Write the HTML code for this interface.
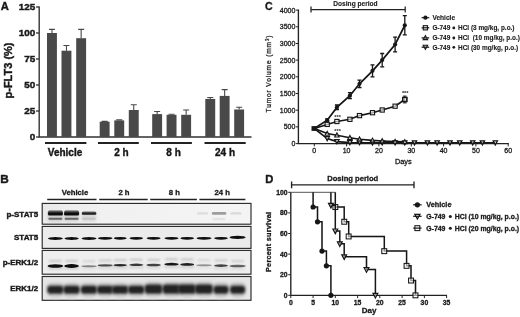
<!DOCTYPE html>
<html><head><meta charset="utf-8">
<style>
html,body{margin:0;padding:0;background:#fff;}
svg{display:block;}
text{font-family:"Liberation Sans",sans-serif;fill:#1a1a1a;stroke:#1a1a1a;stroke-width:0.3px;}
.b{font-weight:bold;}
#pC text{stroke-width:0.12px;}
</style></head><body>
<svg width="520" height="317" viewBox="0 0 520 317">
<defs>
<filter id="bl1" x="-20%" y="-100%" width="140%" height="300%"><feGaussianBlur stdDeviation="0.7"/></filter>
<filter id="bl2" x="-20%" y="-100%" width="140%" height="300%"><feGaussianBlur stdDeviation="1.0"/></filter>
<filter id="bl3" x="-20%" y="-100%" width="140%" height="300%"><feGaussianBlur stdDeviation="1.6"/></filter>
<filter id="bl0" x="-20%" y="-100%" width="140%" height="300%"><feGaussianBlur stdDeviation="0.5"/></filter>
<filter id="soft" x="0" y="0" width="100%" height="100%"><feGaussianBlur stdDeviation="0.3"/></filter>
<linearGradient id="g1" x1="0" x2="1" y1="0" y2="0"><stop offset="0" stop-color="#e9e9e9"/><stop offset="0.3" stop-color="#f1f1f1"/><stop offset="1" stop-color="#f4f4f4"/></linearGradient>
</defs>
<rect width="520" height="317" fill="#fff"/>
<g filter="url(#soft)">

<g id="pA">
<text class="b" x="0.8" y="9.7" font-size="11.2" style="stroke-width:0.4px">A</text>
<path d="M39.2 6.5V137.0H251.5" fill="none" stroke="#333" stroke-width="1.4"/>
<path d="M36.0 137.0H39.2" stroke="#333" stroke-width="1.3"/>
<text class="b" x="35.2" y="140.1" font-size="9.9" text-anchor="end" style="stroke-width:0.45px">0</text>
<path d="M36.0 111.0H39.2" stroke="#333" stroke-width="1.3"/>
<text class="b" x="35.2" y="114.1" font-size="9.9" text-anchor="end" style="stroke-width:0.45px">25</text>
<path d="M36.0 85.0H39.2" stroke="#333" stroke-width="1.3"/>
<text class="b" x="35.2" y="88.1" font-size="9.9" text-anchor="end" style="stroke-width:0.45px">50</text>
<path d="M36.0 59.0H39.2" stroke="#333" stroke-width="1.3"/>
<text class="b" x="35.2" y="62.1" font-size="9.9" text-anchor="end" style="stroke-width:0.45px">75</text>
<path d="M36.0 33.0H39.2" stroke="#333" stroke-width="1.3"/>
<text class="b" x="35.2" y="36.1" font-size="9.9" text-anchor="end" style="stroke-width:0.45px">100</text>
<path d="M36.0 7.0H39.2" stroke="#333" stroke-width="1.3"/>
<text class="b" x="35.2" y="10.1" font-size="9.9" text-anchor="end" style="stroke-width:0.45px">125</text>
<text class="b" font-size="10.3" text-anchor="middle" textLength="56" lengthAdjust="spacingAndGlyphs" style="stroke-width:0.4px" transform="translate(11.9 70.5) rotate(-90)">p-FLT3 (%)</text>
<rect x="47.0" y="33.0" width="9.9" height="104.0" fill="#484848"/>
<path d="M51.95 33.0V29.4M48.95 29.4H54.95" stroke="#484848" stroke-width="1.1" fill="none"/>
<rect x="61.5" y="50.7" width="9.9" height="86.3" fill="#484848"/>
<path d="M66.45 50.7V45.5M63.45 45.5H69.45" stroke="#484848" stroke-width="1.1" fill="none"/>
<rect x="76.2" y="38.2" width="9.9" height="98.8" fill="#484848"/>
<path d="M81.15 38.2V29.4M78.15 29.4H84.15" stroke="#484848" stroke-width="1.1" fill="none"/>
<rect x="99.7" y="121.7" width="9.9" height="15.3" fill="#484848"/>
<path d="M104.65 121.7V121.4M101.65 121.4H107.65" stroke="#484848" stroke-width="1.1" fill="none"/>
<rect x="114.3" y="120.4" width="9.9" height="16.6" fill="#484848"/>
<path d="M119.25 120.4V119.9M116.25 119.9H122.25" stroke="#484848" stroke-width="1.1" fill="none"/>
<rect x="128.8" y="110.0" width="9.9" height="27.0" fill="#484848"/>
<path d="M133.75 110.0V104.8M130.75 104.8H136.75" stroke="#484848" stroke-width="1.1" fill="none"/>
<rect x="152.2" y="114.1" width="9.9" height="22.9" fill="#484848"/>
<path d="M157.14999999999998 114.1V111.5M154.14999999999998 111.5H160.14999999999998" stroke="#484848" stroke-width="1.1" fill="none"/>
<rect x="166.6" y="114.8" width="9.9" height="22.2" fill="#484848"/>
<path d="M171.54999999999998 114.8V114.3M168.54999999999998 114.3H174.54999999999998" stroke="#484848" stroke-width="1.1" fill="none"/>
<rect x="181.2" y="114.8" width="9.9" height="22.2" fill="#484848"/>
<path d="M186.14999999999998 114.8V110.0M183.14999999999998 110.0H189.14999999999998" stroke="#484848" stroke-width="1.1" fill="none"/>
<rect x="205.3" y="98.9" width="9.9" height="38.1" fill="#484848"/>
<path d="M210.25 98.9V97.5M207.25 97.5H213.25" stroke="#484848" stroke-width="1.1" fill="none"/>
<rect x="219.7" y="95.9" width="9.9" height="41.1" fill="#484848"/>
<path d="M224.64999999999998 95.9V89.6M221.64999999999998 89.6H227.64999999999998" stroke="#484848" stroke-width="1.1" fill="none"/>
<rect x="234.2" y="109.5" width="9.9" height="27.5" fill="#484848"/>
<path d="M239.14999999999998 109.5V107.3M236.14999999999998 107.3H242.14999999999998" stroke="#484848" stroke-width="1.1" fill="none"/>
<path d="M45 143H86.4" stroke="#222" stroke-width="1.9"/>
<text class="b" x="65.0" y="156" font-size="10" text-anchor="middle" style="stroke-width:0.4px">Vehicle</text>
<path d="M98 143H138.8" stroke="#222" stroke-width="1.9"/>
<text class="b" x="121.5" y="156" font-size="10" text-anchor="middle" style="stroke-width:0.4px">2 h</text>
<path d="M151 143H191.9" stroke="#222" stroke-width="1.9"/>
<text class="b" x="173.6" y="156" font-size="10" text-anchor="middle" style="stroke-width:0.4px">8 h</text>
<path d="M204.5 143H245.7" stroke="#222" stroke-width="1.9"/>
<text class="b" x="225" y="156" font-size="10" text-anchor="middle" style="stroke-width:0.4px">24 h</text>
</g>
<g id="pB">
<text class="b" x="0.2" y="182.6" font-size="11.8" style="stroke-width:0.4px">B</text>
<path d="M47.2 199.5H96.5" stroke="#222" stroke-width="1.5"/>
<text class="b" x="75" y="195.3" font-size="7.7" text-anchor="middle">Vehicle</text>
<path d="M99.2 199.5H147.7" stroke="#222" stroke-width="1.5"/>
<text class="b" x="124" y="195.3" font-size="7.7" text-anchor="middle">2 h</text>
<path d="M150.2 199.5H196.9" stroke="#222" stroke-width="1.5"/>
<text class="b" x="174.4" y="195.3" font-size="7.7" text-anchor="middle">8 h</text>
<path d="M199.4 199.5H245.4" stroke="#222" stroke-width="1.5"/>
<text class="b" x="222.2" y="195.3" font-size="7.7" text-anchor="middle">24 h</text>
<rect x="42.2" y="203.4" width="208.8" height="20.8" fill="url(#g1)" stroke="#2a2a2a" stroke-width="1.15"/>
<text class="b" x="38.2" y="216.7" font-size="8" text-anchor="end" style="stroke-width:0.4px">p-STAT5</text>
<rect x="42.2" y="226.4" width="208.8" height="22.0" fill="#ebebeb" stroke="#2a2a2a" stroke-width="1.15"/>
<text class="b" x="38.2" y="240.3" font-size="8" text-anchor="end" style="stroke-width:0.4px">STAT5</text>
<rect x="42.2" y="250.4" width="208.8" height="23.8" fill="#eeeeee" stroke="#2a2a2a" stroke-width="1.15"/>
<text class="b" x="38.2" y="265.2" font-size="8" text-anchor="end" style="stroke-width:0.4px">p-ERK1/2</text>
<rect x="42.2" y="276.5" width="208.8" height="23.8" fill="#e6e6e6" stroke="#2a2a2a" stroke-width="1.15"/>
<text class="b" x="38.2" y="291.3" font-size="8" text-anchor="end" style="stroke-width:0.4px">ERK1/2</text>
<rect x="47.9" y="212.5" width="15" height="9" rx="1.6" fill="#aaa" opacity="0.45" filter="url(#bl2)"/>
<rect x="47.9" y="210.6" width="15" height="5.2" rx="1.6" fill="#444" opacity="0.9" filter="url(#bl1)"/>
<rect x="47.9" y="212.5" width="15" height="2.6" rx="1.3" fill="#0c0c0c" opacity="1" filter="url(#bl0)"/>
<rect x="48.4" y="217.8" width="14" height="2.0" rx="1.0" fill="#555" opacity="0.85" filter="url(#bl1)"/>
<rect x="64.1" y="212.5" width="15" height="9" rx="1.6" fill="#aaa" opacity="0.45" filter="url(#bl2)"/>
<rect x="64.1" y="210.6" width="15" height="5.2" rx="1.6" fill="#444" opacity="0.9" filter="url(#bl1)"/>
<rect x="64.1" y="212.5" width="15" height="2.6" rx="1.3" fill="#0c0c0c" opacity="1" filter="url(#bl0)"/>
<rect x="64.6" y="217.8" width="14" height="2.0" rx="1.0" fill="#555" opacity="0.85" filter="url(#bl1)"/>
<rect x="81.8" y="212.5" width="14.5" height="9" rx="1.6" fill="#aaa" opacity="0.3375" filter="url(#bl2)"/>
<rect x="81.8" y="211.4" width="14.5" height="3.6" rx="1.6" fill="#444" opacity="0.675" filter="url(#bl1)"/>
<rect x="81.8" y="212.4" width="14.5" height="2.0" rx="1.0" fill="#0c0c0c" opacity="0.75" filter="url(#bl0)"/>
<rect x="82.2" y="217.8" width="13.5" height="2.0" rx="1.0" fill="#555" opacity="0.15" filter="url(#bl1)"/>
<rect x="211.8" y="212.1" width="14.5" height="2.6" rx="1.3" fill="#888" opacity="0.8" filter="url(#bl1)"/>
<rect x="197.0" y="212.2" width="11" height="2.4" rx="1.2" fill="#bbb" opacity="0.4" filter="url(#bl1)"/>
<rect x="230.5" y="212.2" width="11" height="2.4" rx="1.2" fill="#bbb" opacity="0.45" filter="url(#bl1)"/>
<rect x="212.5" y="217.8" width="13" height="2.4" rx="1.2" fill="#ccc" opacity="0.4" filter="url(#bl1)"/>
<ellipse cx="55.4" cy="238.5" rx="7.5" ry="1.4" fill="#0a0a0a" opacity="1" filter="url(#bl0)"/>
<ellipse cx="71.6" cy="238.5" rx="7.1" ry="1.4" fill="#0a0a0a" opacity="1" filter="url(#bl0)"/>
<ellipse cx="89.0" cy="238.5" rx="7.5" ry="1.4" fill="#0a0a0a" opacity="1" filter="url(#bl0)"/>
<ellipse cx="105.2" cy="238.3" rx="7.3" ry="1.4" fill="#0a0a0a" opacity="1" filter="url(#bl0)"/>
<ellipse cx="120.2" cy="238.3" rx="6.4" ry="1.4" fill="#0a0a0a" opacity="1" filter="url(#bl0)"/>
<ellipse cx="136.3" cy="238.3" rx="6.8" ry="1.4" fill="#0a0a0a" opacity="1" filter="url(#bl0)"/>
<ellipse cx="153.6" cy="238.3" rx="7.0" ry="1.4" fill="#0a0a0a" opacity="1" filter="url(#bl0)"/>
<ellipse cx="171.5" cy="238.3" rx="7.0" ry="1.4" fill="#0a0a0a" opacity="1" filter="url(#bl0)"/>
<ellipse cx="187.2" cy="238.3" rx="6.8" ry="1.4" fill="#0a0a0a" opacity="1" filter="url(#bl0)"/>
<ellipse cx="204.0" cy="238.3" rx="7.5" ry="1.4" fill="#0a0a0a" opacity="1" filter="url(#bl0)"/>
<ellipse cx="221.0" cy="238.3" rx="6.8" ry="1.4" fill="#0a0a0a" opacity="1" filter="url(#bl0)"/>
<ellipse cx="237.6" cy="237.4" rx="8.0" ry="1.6" fill="#0a0a0a" opacity="1" filter="url(#bl0)"/>
<rect x="47.9" y="265.1" width="15" height="5" rx="1.6" fill="#bbb" opacity="0.5" filter="url(#bl2)"/>
<ellipse cx="55.4" cy="266.0" rx="7.8" ry="1.8" fill="#111" opacity="1" filter="url(#bl1)"/>
<rect x="48.9" y="260.0" width="13" height="2.0" rx="1.0" fill="#999" opacity="0.5" filter="url(#bl2)"/>
<rect x="64.1" y="265.1" width="15" height="5" rx="1.6" fill="#bbb" opacity="0.5" filter="url(#bl2)"/>
<ellipse cx="71.6" cy="266.0" rx="7.3" ry="1.9" fill="#111" opacity="1" filter="url(#bl1)"/>
<rect x="65.1" y="260.0" width="13" height="2.0" rx="1.0" fill="#999" opacity="0.5" filter="url(#bl2)"/>
<rect x="81.5" y="265.3" width="15" height="5" rx="1.6" fill="#bbb" opacity="0.225" filter="url(#bl2)"/>
<ellipse cx="89.0" cy="266.2" rx="7.8" ry="1.0" fill="#111" opacity="0.45" filter="url(#bl1)"/>
<rect x="82.5" y="260.2" width="13" height="2.0" rx="1.0" fill="#999" opacity="0.325" filter="url(#bl2)"/>
<rect x="97.7" y="264.5" width="15" height="5" rx="1.6" fill="#bbb" opacity="0.35" filter="url(#bl2)"/>
<ellipse cx="105.2" cy="265.4" rx="7.5" ry="1.1" fill="#111" opacity="0.7" filter="url(#bl1)"/>
<rect x="98.7" y="259.4" width="13" height="2.0" rx="1.0" fill="#999" opacity="0.44999999999999996" filter="url(#bl2)"/>
<rect x="112.7" y="264.3" width="15" height="5" rx="1.6" fill="#bbb" opacity="0.425" filter="url(#bl2)"/>
<ellipse cx="120.2" cy="265.2" rx="6.7" ry="1.3" fill="#111" opacity="0.85" filter="url(#bl1)"/>
<rect x="113.7" y="259.2" width="13" height="2.0" rx="1.0" fill="#999" opacity="0.5" filter="url(#bl2)"/>
<rect x="128.8" y="263.9" width="15" height="5" rx="1.6" fill="#bbb" opacity="0.4" filter="url(#bl2)"/>
<ellipse cx="136.3" cy="264.8" rx="7.0" ry="1.3" fill="#111" opacity="0.8" filter="url(#bl1)"/>
<rect x="129.8" y="258.8" width="13" height="2.0" rx="1.0" fill="#999" opacity="0.5" filter="url(#bl2)"/>
<rect x="146.1" y="264.1" width="15" height="5" rx="1.6" fill="#bbb" opacity="0.375" filter="url(#bl2)"/>
<ellipse cx="153.6" cy="265.0" rx="7.2" ry="1.3" fill="#111" opacity="0.75" filter="url(#bl1)"/>
<rect x="147.1" y="259.0" width="13" height="2.0" rx="1.0" fill="#999" opacity="0.475" filter="url(#bl2)"/>
<rect x="164.0" y="263.3" width="15" height="5" rx="1.6" fill="#bbb" opacity="0.475" filter="url(#bl2)"/>
<ellipse cx="171.5" cy="264.2" rx="7.2" ry="1.4" fill="#111" opacity="0.95" filter="url(#bl1)"/>
<rect x="165.0" y="258.2" width="13" height="2.0" rx="1.0" fill="#999" opacity="0.5" filter="url(#bl2)"/>
<rect x="179.7" y="263.5" width="15" height="5" rx="1.6" fill="#bbb" opacity="0.45" filter="url(#bl2)"/>
<ellipse cx="187.2" cy="264.4" rx="7.0" ry="1.4" fill="#111" opacity="0.9" filter="url(#bl1)"/>
<rect x="180.7" y="258.4" width="13" height="2.0" rx="1.0" fill="#999" opacity="0.5" filter="url(#bl2)"/>
<rect x="196.5" y="264.3" width="15" height="5" rx="1.6" fill="#bbb" opacity="0.19" filter="url(#bl2)"/>
<ellipse cx="204.0" cy="265.2" rx="7.8" ry="1.0" fill="#111" opacity="0.38" filter="url(#bl1)"/>
<rect x="197.5" y="259.2" width="13" height="2.0" rx="1.0" fill="#999" opacity="0.29000000000000004" filter="url(#bl2)"/>
<rect x="213.5" y="264.7" width="15" height="5" rx="1.6" fill="#bbb" opacity="0.375" filter="url(#bl2)"/>
<ellipse cx="221.0" cy="265.6" rx="7.0" ry="1.3" fill="#111" opacity="0.75" filter="url(#bl1)"/>
<rect x="214.5" y="259.6" width="13" height="2.0" rx="1.0" fill="#999" opacity="0.475" filter="url(#bl2)"/>
<rect x="230.1" y="265.1" width="15" height="5" rx="1.6" fill="#bbb" opacity="0.3" filter="url(#bl2)"/>
<ellipse cx="237.6" cy="266.0" rx="8.2" ry="1.3" fill="#111" opacity="0.6" filter="url(#bl1)"/>
<rect x="231.1" y="260.0" width="13" height="2.0" rx="1.0" fill="#999" opacity="0.4" filter="url(#bl2)"/>
<rect x="46.6" y="283.4" width="17.6" height="12.4" rx="4.5" fill="#666" opacity="0.5" filter="url(#bl3)"/>
<rect x="47.4" y="286.0" width="16.0" height="7.4" rx="3.4" fill="#1e1e1e" opacity="0.95" filter="url(#bl2)"/>
<rect x="50.9" y="295.2" width="9" height="4" rx="1.6" fill="#ccc" opacity="0.35" filter="url(#bl3)"/>
<rect x="62.8" y="283.4" width="17.6" height="12.4" rx="4.5" fill="#666" opacity="0.5" filter="url(#bl3)"/>
<rect x="63.6" y="286.0" width="16.0" height="7.4" rx="3.4" fill="#1e1e1e" opacity="0.95" filter="url(#bl2)"/>
<rect x="67.1" y="295.2" width="9" height="4" rx="1.6" fill="#ccc" opacity="0.35" filter="url(#bl3)"/>
<rect x="80.2" y="283.4" width="17.6" height="12.4" rx="4.5" fill="#666" opacity="0.5" filter="url(#bl3)"/>
<rect x="81.0" y="286.0" width="16.0" height="7.4" rx="3.4" fill="#1e1e1e" opacity="0.95" filter="url(#bl2)"/>
<rect x="84.5" y="295.2" width="9" height="4" rx="1.6" fill="#ccc" opacity="0.35" filter="url(#bl3)"/>
<rect x="96.4" y="283.4" width="17.6" height="12.4" rx="4.5" fill="#666" opacity="0.5" filter="url(#bl3)"/>
<rect x="97.2" y="286.0" width="16.0" height="7.4" rx="3.4" fill="#1e1e1e" opacity="0.95" filter="url(#bl2)"/>
<rect x="100.7" y="295.2" width="9" height="4" rx="1.6" fill="#ccc" opacity="0.35" filter="url(#bl3)"/>
<rect x="111.4" y="283.4" width="17.6" height="12.4" rx="4.5" fill="#666" opacity="0.5" filter="url(#bl3)"/>
<rect x="112.2" y="286.0" width="16.0" height="7.4" rx="3.4" fill="#1e1e1e" opacity="0.95" filter="url(#bl2)"/>
<rect x="115.7" y="295.2" width="9" height="4" rx="1.6" fill="#ccc" opacity="0.35" filter="url(#bl3)"/>
<rect x="127.5" y="283.4" width="17.6" height="12.4" rx="4.5" fill="#666" opacity="0.5" filter="url(#bl3)"/>
<rect x="128.3" y="286.0" width="16.0" height="7.4" rx="3.4" fill="#1e1e1e" opacity="0.95" filter="url(#bl2)"/>
<rect x="131.8" y="295.2" width="9" height="4" rx="1.6" fill="#ccc" opacity="0.35" filter="url(#bl3)"/>
<rect x="144.1" y="282.2" width="19.0" height="13.6" rx="4.5" fill="#666" opacity="0.5" filter="url(#bl3)"/>
<rect x="144.9" y="284.8" width="17.4" height="8.6" rx="3.4" fill="#1e1e1e" opacity="0.95" filter="url(#bl2)"/>
<rect x="149.1" y="295.2" width="9" height="4" rx="1.6" fill="#ccc" opacity="0.35" filter="url(#bl3)"/>
<rect x="162.0" y="282.2" width="19.0" height="13.6" rx="4.5" fill="#666" opacity="0.5" filter="url(#bl3)"/>
<rect x="162.8" y="284.8" width="17.4" height="8.6" rx="3.4" fill="#1e1e1e" opacity="0.95" filter="url(#bl2)"/>
<rect x="167.0" y="295.2" width="9" height="4" rx="1.6" fill="#ccc" opacity="0.35" filter="url(#bl3)"/>
<rect x="177.7" y="282.2" width="19.0" height="13.6" rx="4.5" fill="#666" opacity="0.5" filter="url(#bl3)"/>
<rect x="178.5" y="284.8" width="17.4" height="8.6" rx="3.4" fill="#1e1e1e" opacity="0.95" filter="url(#bl2)"/>
<rect x="182.7" y="295.2" width="9" height="4" rx="1.6" fill="#ccc" opacity="0.35" filter="url(#bl3)"/>
<rect x="194.5" y="282.2" width="19.0" height="13.6" rx="4.5" fill="#666" opacity="0.5" filter="url(#bl3)"/>
<rect x="195.3" y="284.8" width="17.4" height="8.6" rx="3.4" fill="#1e1e1e" opacity="0.95" filter="url(#bl2)"/>
<rect x="199.5" y="295.2" width="9" height="4" rx="1.6" fill="#ccc" opacity="0.35" filter="url(#bl3)"/>
<rect x="212.8" y="283.3" width="16.4" height="12.6" rx="4.5" fill="#666" opacity="0.5" filter="url(#bl3)"/>
<rect x="213.6" y="285.9" width="14.8" height="7.6" rx="3.4" fill="#1e1e1e" opacity="0.95" filter="url(#bl2)"/>
<rect x="216.5" y="295.2" width="9" height="4" rx="1.6" fill="#ccc" opacity="0.35" filter="url(#bl3)"/>
<rect x="229.4" y="283.3" width="16.4" height="12.6" rx="4.5" fill="#666" opacity="0.5" filter="url(#bl3)"/>
<rect x="230.2" y="285.9" width="14.8" height="7.6" rx="3.4" fill="#1e1e1e" opacity="0.95" filter="url(#bl2)"/>
<rect x="233.1" y="295.2" width="9" height="4" rx="1.6" fill="#ccc" opacity="0.35" filter="url(#bl3)"/>
</g>
<g id="pC">
<text class="b" x="265" y="9.8" font-size="10.6" style="stroke-width:0.3px">C</text>
<path d="M298.4 9.6V143.6H508.8" fill="none" stroke="#222" stroke-width="1.35"/>
<path d="M295.79999999999995 143.6H298.4" stroke="#222" stroke-width="1"/>
<text x="295.4" y="146.1" font-size="7" text-anchor="end" style="stroke-width:0.3px">0</text>
<path d="M295.79999999999995 126.9H298.4" stroke="#222" stroke-width="1"/>
<text x="295.4" y="129.4" font-size="7" text-anchor="end" style="stroke-width:0.3px">500</text>
<path d="M295.79999999999995 110.2H298.4" stroke="#222" stroke-width="1"/>
<text x="295.4" y="112.7" font-size="7" text-anchor="end" style="stroke-width:0.3px">1000</text>
<path d="M295.79999999999995 93.5H298.4" stroke="#222" stroke-width="1"/>
<text x="295.4" y="96.0" font-size="7" text-anchor="end" style="stroke-width:0.3px">1500</text>
<path d="M295.79999999999995 76.8H298.4" stroke="#222" stroke-width="1"/>
<text x="295.4" y="79.3" font-size="7" text-anchor="end" style="stroke-width:0.3px">2000</text>
<path d="M295.79999999999995 60.1H298.4" stroke="#222" stroke-width="1"/>
<text x="295.4" y="62.6" font-size="7" text-anchor="end" style="stroke-width:0.3px">2500</text>
<path d="M295.79999999999995 43.5H298.4" stroke="#222" stroke-width="1"/>
<text x="295.4" y="46.0" font-size="7" text-anchor="end" style="stroke-width:0.3px">3000</text>
<path d="M295.79999999999995 26.8H298.4" stroke="#222" stroke-width="1"/>
<text x="295.4" y="29.3" font-size="7" text-anchor="end" style="stroke-width:0.3px">3500</text>
<path d="M295.79999999999995 10.1H298.4" stroke="#222" stroke-width="1"/>
<text x="295.4" y="12.6" font-size="7" text-anchor="end" style="stroke-width:0.3px">4000</text>
<path d="M314.3 143.6V146.4" stroke="#222" stroke-width="1"/>
<text x="314.3" y="153.1" font-size="7" text-anchor="middle" style="stroke-width:0.3px">0</text>
<path d="M346.6 143.6V146.4" stroke="#222" stroke-width="1"/>
<text x="346.6" y="153.1" font-size="7" text-anchor="middle" style="stroke-width:0.3px">10</text>
<path d="M378.9 143.6V146.4" stroke="#222" stroke-width="1"/>
<text x="378.9" y="153.1" font-size="7" text-anchor="middle" style="stroke-width:0.3px">20</text>
<path d="M411.3 143.6V146.4" stroke="#222" stroke-width="1"/>
<text x="411.3" y="153.1" font-size="7" text-anchor="middle" style="stroke-width:0.3px">30</text>
<path d="M443.6 143.6V146.4" stroke="#222" stroke-width="1"/>
<text x="443.6" y="153.1" font-size="7" text-anchor="middle" style="stroke-width:0.3px">40</text>
<path d="M475.9 143.6V146.4" stroke="#222" stroke-width="1"/>
<text x="475.9" y="153.1" font-size="7" text-anchor="middle" style="stroke-width:0.3px">50</text>
<path d="M508.2 143.6V146.4" stroke="#222" stroke-width="1"/>
<text x="508.2" y="153.1" font-size="7" text-anchor="middle" style="stroke-width:0.3px">60</text>
<text font-size="6.6" text-anchor="middle" textLength="77" lengthAdjust="spacing" style="stroke-width:0.25px" transform="translate(271.3 74) rotate(-90)">Tumor Volume (mm<tspan font-size="4.5" dy="-2.2">3</tspan><tspan dy="2.2">)</tspan></text>
<text class="b" x="355.5" y="6.4" font-size="6.6" text-anchor="middle">Dosing period</text>
<path d="M311 9.6H405.2M311 6.6V12.5M405.2 6.6V12.5" stroke="#222" stroke-width="1.25" fill="none"/>
<text x="403.3" y="164.3" font-size="7.4" text-anchor="middle" style="stroke-width:0.3px">Days</text>
<polyline points="314.3,128.5 327.2,138.6 336.9,141.6 349.9,142.6 359.5,142.7 372.5,142.8 382.2,142.8 395.1,142.8 404.8,142.8 414.5,142.8 427.4,142.8 437.1,142.8 450.0,142.8 459.7,142.8 472.7,142.8 482.4,142.8 495.3,142.8" fill="none" stroke="#151515" stroke-width="1.6"/>
<path d="M325.0 136.7H329.4L327.2 140.7Z" fill="#fff" fill-opacity="0.6" stroke="#151515" stroke-width="1.2" stroke-linejoin="miter"/>
<path d="M334.7 139.7H339.1L336.9 143.7Z" fill="#fff" fill-opacity="0.6" stroke="#151515" stroke-width="1.2" stroke-linejoin="miter"/>
<path d="M347.7 140.7H352.1L349.9 144.7Z" fill="#fff" fill-opacity="0.6" stroke="#151515" stroke-width="1.2" stroke-linejoin="miter"/>
<path d="M357.3 140.8H361.7L359.5 144.8Z" fill="#fff" fill-opacity="0.6" stroke="#151515" stroke-width="1.2" stroke-linejoin="miter"/>
<path d="M370.3 140.9H374.7L372.5 144.9Z" fill="#fff" fill-opacity="0.6" stroke="#151515" stroke-width="1.2" stroke-linejoin="miter"/>
<path d="M380.0 140.9H384.4L382.2 144.9Z" fill="#fff" fill-opacity="0.6" stroke="#151515" stroke-width="1.2" stroke-linejoin="miter"/>
<path d="M392.9 140.9H397.3L395.1 144.9Z" fill="#fff" fill-opacity="0.6" stroke="#151515" stroke-width="1.2" stroke-linejoin="miter"/>
<path d="M402.6 140.9H407.0L404.8 144.9Z" fill="#fff" fill-opacity="0.6" stroke="#151515" stroke-width="1.2" stroke-linejoin="miter"/>
<path d="M412.3 140.9H416.7L414.5 144.9Z" fill="#fff" fill-opacity="0.6" stroke="#151515" stroke-width="1.2" stroke-linejoin="miter"/>
<path d="M425.2 140.9H429.6L427.4 144.9Z" fill="#fff" fill-opacity="0.6" stroke="#151515" stroke-width="1.2" stroke-linejoin="miter"/>
<path d="M434.9 140.9H439.3L437.1 144.9Z" fill="#fff" fill-opacity="0.6" stroke="#151515" stroke-width="1.2" stroke-linejoin="miter"/>
<path d="M447.8 140.9H452.2L450.0 144.9Z" fill="#fff" fill-opacity="0.6" stroke="#151515" stroke-width="1.2" stroke-linejoin="miter"/>
<path d="M457.5 140.9H461.9L459.7 144.9Z" fill="#fff" fill-opacity="0.6" stroke="#151515" stroke-width="1.2" stroke-linejoin="miter"/>
<path d="M470.5 140.9H474.9L472.7 144.9Z" fill="#fff" fill-opacity="0.6" stroke="#151515" stroke-width="1.2" stroke-linejoin="miter"/>
<path d="M480.2 140.9H484.6L482.4 144.9Z" fill="#fff" fill-opacity="0.6" stroke="#151515" stroke-width="1.2" stroke-linejoin="miter"/>
<path d="M493.1 140.9H497.5L495.3 144.9Z" fill="#fff" fill-opacity="0.6" stroke="#151515" stroke-width="1.2" stroke-linejoin="miter"/>
<polyline points="314.3,128.5 327.2,133.6 336.9,135.3 349.9,137.8 359.5,139.3 372.5,140.4 382.2,141.0 395.1,141.6 404.8,141.9" fill="none" stroke="#151515" stroke-width="1.6"/>
<path d="M325.0 135.3H329.4L327.2 131.3Z" fill="#fff" fill-opacity="0.6" stroke="#151515" stroke-width="1.1" stroke-linejoin="miter"/>
<path d="M334.7 137.0H339.1L336.9 133.0Z" fill="#fff" fill-opacity="0.6" stroke="#151515" stroke-width="1.1" stroke-linejoin="miter"/>
<path d="M347.7 139.5H352.1L349.9 135.5Z" fill="#fff" fill-opacity="0.6" stroke="#151515" stroke-width="1.1" stroke-linejoin="miter"/>
<path d="M357.3 141.0H361.7L359.5 137.0Z" fill="#fff" fill-opacity="0.6" stroke="#151515" stroke-width="1.1" stroke-linejoin="miter"/>
<path d="M370.3 142.1H374.7L372.5 138.1Z" fill="#fff" fill-opacity="0.6" stroke="#151515" stroke-width="1.1" stroke-linejoin="miter"/>
<path d="M380.0 142.7H384.4L382.2 138.7Z" fill="#fff" fill-opacity="0.6" stroke="#151515" stroke-width="1.1" stroke-linejoin="miter"/>
<path d="M392.9 143.3H397.3L395.1 139.3Z" fill="#fff" fill-opacity="0.6" stroke="#151515" stroke-width="1.1" stroke-linejoin="miter"/>
<path d="M402.6 143.6H407.0L404.8 139.6Z" fill="#fff" fill-opacity="0.6" stroke="#151515" stroke-width="1.1" stroke-linejoin="miter"/>
<polyline points="314.3,128.5 327.2,124.4 336.9,121.5 349.9,119.3 359.5,115.6 372.5,112.7 382.2,110.0 395.1,106.2 404.8,99.5" fill="none" stroke="#151515" stroke-width="1.6"/>
<rect x="325.1" y="122.3" width="4.2" height="4.2" fill="#fff" fill-opacity="0.6" stroke="#151515" stroke-width="1.1"/>
<rect x="334.8" y="119.4" width="4.2" height="4.2" fill="#fff" fill-opacity="0.6" stroke="#151515" stroke-width="1.1"/>
<rect x="347.8" y="117.2" width="4.2" height="4.2" fill="#fff" fill-opacity="0.6" stroke="#151515" stroke-width="1.1"/>
<rect x="357.4" y="113.5" width="4.2" height="4.2" fill="#fff" fill-opacity="0.6" stroke="#151515" stroke-width="1.1"/>
<rect x="370.4" y="110.6" width="4.2" height="4.2" fill="#fff" fill-opacity="0.6" stroke="#151515" stroke-width="1.1"/>
<rect x="380.1" y="107.9" width="4.2" height="4.2" fill="#fff" fill-opacity="0.6" stroke="#151515" stroke-width="1.1"/>
<rect x="393.0" y="104.1" width="4.2" height="4.2" fill="#fff" fill-opacity="0.6" stroke="#151515" stroke-width="1.1"/>
<rect x="402.7" y="97.4" width="4.2" height="4.2" fill="#fff" fill-opacity="0.6" stroke="#151515" stroke-width="1.1"/>
<path d="M404.8 96.1V102.9M403.0 96.1H406.6M403.0 102.9H406.6" stroke="#151515" stroke-width="1" fill="none"/>
<rect x="402.8" y="97.5" width="4.0" height="4.0" fill="#fff" fill-opacity="0.6" stroke="#151515" stroke-width="1.3"/>
<polyline points="314.3,128.5 327.2,120.2 336.9,107.4 349.9,95.7 359.5,83.8 372.5,70.8 382.2,60.1 395.1,44.5 404.8,25.3" fill="none" stroke="#151515" stroke-width="1.75"/>
<circle cx="314.3" cy="128.5" r="2.1" fill="#151515"/>
<path d="M327.2 118.9V121.6M325.2 118.9H329.2M325.2 121.6H329.2" stroke="#151515" stroke-width="1.3" fill="none"/>
<circle cx="327.2" cy="120.2" r="2.1" fill="#151515"/>
<path d="M336.9 105.0V109.7M334.9 105.0H338.9M334.9 109.7H338.9" stroke="#151515" stroke-width="1.3" fill="none"/>
<circle cx="336.9" cy="107.4" r="2.1" fill="#151515"/>
<path d="M349.9 92.7V98.7M347.9 92.7H351.9M347.9 98.7H351.9" stroke="#151515" stroke-width="1.3" fill="none"/>
<circle cx="349.9" cy="95.7" r="2.1" fill="#151515"/>
<path d="M359.5 80.2V87.5M357.5 80.2H361.5M357.5 87.5H361.5" stroke="#151515" stroke-width="1.3" fill="none"/>
<circle cx="359.5" cy="83.8" r="2.1" fill="#151515"/>
<path d="M372.5 64.8V76.8M370.5 64.8H374.5M370.5 76.8H374.5" stroke="#151515" stroke-width="1.3" fill="none"/>
<circle cx="372.5" cy="70.8" r="2.1" fill="#151515"/>
<path d="M382.2 53.5V66.8M380.2 53.5H384.2M380.2 66.8H384.2" stroke="#151515" stroke-width="1.3" fill="none"/>
<circle cx="382.2" cy="60.1" r="2.1" fill="#151515"/>
<path d="M395.1 37.1V51.8M393.1 37.1H397.1M393.1 51.8H397.1" stroke="#151515" stroke-width="1.3" fill="none"/>
<circle cx="395.1" cy="44.5" r="2.1" fill="#151515"/>
<path d="M404.8 15.6V34.9M402.8 15.6H406.8M402.8 34.9H406.8" stroke="#151515" stroke-width="1.3" fill="none"/>
<circle cx="404.8" cy="25.3" r="2.1" fill="#151515"/>
<rect x="311.5" y="126.1" width="5.6" height="4.8" fill="#151515"/>
<text class="b" x="337.6" y="119.0" font-size="5.6" text-anchor="middle" style="stroke-width:0">***</text>
<text class="b" x="337.6" y="133.0" font-size="5.6" text-anchor="middle" style="stroke-width:0">***</text>
<text class="b" x="405.2" y="95" font-size="5.6" text-anchor="middle" style="stroke-width:0">***</text>
<circle cx="425.4" cy="17.7" r="2.1" fill="#151515"/>
<path d="M421.59999999999997 17.7H429.2" stroke="#151515" stroke-width="1.2"/>
<text class="b" x="432.4" y="20.1" font-size="6.6" xml:space="preserve">Vehicle</text>
<rect x="423.3" y="25.7" width="4.2" height="4.2" fill="#fff" fill-opacity="0.6" stroke="#151515" stroke-width="1.1"/>
<path d="M421.59999999999997 27.8H429.2" stroke="#151515" stroke-width="1.2"/>
<text class="b" x="432.4" y="30.2" font-size="6.45" xml:space="preserve">G-749</text>
<circle cx="453.8" cy="27.9" r="1.4" fill="#1a1a1a"/>
<text class="b" x="458" y="30.2" font-size="6.45" xml:space="preserve">HCl (3 mg/kg, p.o.)</text>
<path d="M423.2 39.6H427.6L425.4 35.6Z" fill="#fff" fill-opacity="0.6" stroke="#151515" stroke-width="1.1" stroke-linejoin="miter"/>
<path d="M421.59999999999997 37.9H429.2" stroke="#151515" stroke-width="1.2"/>
<text class="b" x="432.4" y="40.3" font-size="6.45" xml:space="preserve">G-749</text>
<circle cx="453.8" cy="38.0" r="1.4" fill="#1a1a1a"/>
<text class="b" x="458" y="40.3" font-size="6.45" xml:space="preserve">HCl  (10 mg/kg, p.o.)</text>
<path d="M423.2 45.3H427.6L425.4 49.3Z" fill="#fff" fill-opacity="0.6" stroke="#151515" stroke-width="1.1" stroke-linejoin="miter"/>
<path d="M421.59999999999997 47.2H429.2" stroke="#151515" stroke-width="1.2"/>
<text class="b" x="432.4" y="49.6" font-size="6.45" xml:space="preserve">G-749</text>
<circle cx="453.8" cy="47.3" r="1.4" fill="#1a1a1a"/>
<text class="b" x="458" y="49.6" font-size="6.45" xml:space="preserve">HCl (30 mg/kg, p.o.)</text>
</g>
<g id="pD">
<text class="b" x="265.3" y="183" font-size="11.2" style="stroke-width:0.4px">D</text>
<path d="M290.8 192.3V295.3H447" fill="none" stroke="#222" stroke-width="1.35"/>
<path d="M288.2 295.3H290.8" stroke="#222" stroke-width="1"/>
<text class="b" x="287.6" y="297.8" font-size="6.8" text-anchor="end">0</text>
<path d="M288.2 274.7H290.8" stroke="#222" stroke-width="1"/>
<text class="b" x="287.6" y="277.2" font-size="6.8" text-anchor="end">20</text>
<path d="M288.2 254.1H290.8" stroke="#222" stroke-width="1"/>
<text class="b" x="287.6" y="256.6" font-size="6.8" text-anchor="end">40</text>
<path d="M288.2 233.5H290.8" stroke="#222" stroke-width="1"/>
<text class="b" x="287.6" y="236.0" font-size="6.8" text-anchor="end">60</text>
<path d="M288.2 212.9H290.8" stroke="#222" stroke-width="1"/>
<text class="b" x="287.6" y="215.4" font-size="6.8" text-anchor="end">80</text>
<path d="M288.2 192.3H290.8" stroke="#222" stroke-width="1"/>
<text class="b" x="287.6" y="194.8" font-size="6.8" text-anchor="end">100</text>
<path d="M290.8 295.3V298.1" stroke="#222" stroke-width="1"/>
<text class="b" x="290.8" y="304.9" font-size="6.8" text-anchor="middle">0</text>
<path d="M313.1 295.3V298.1" stroke="#222" stroke-width="1"/>
<text class="b" x="313.1" y="304.9" font-size="6.8" text-anchor="middle">5</text>
<path d="M335.3 295.3V298.1" stroke="#222" stroke-width="1"/>
<text class="b" x="335.3" y="304.9" font-size="6.8" text-anchor="middle">10</text>
<path d="M357.6 295.3V298.1" stroke="#222" stroke-width="1"/>
<text class="b" x="357.6" y="304.9" font-size="6.8" text-anchor="middle">15</text>
<path d="M379.8 295.3V298.1" stroke="#222" stroke-width="1"/>
<text class="b" x="379.8" y="304.9" font-size="6.8" text-anchor="middle">20</text>
<path d="M402.1 295.3V298.1" stroke="#222" stroke-width="1"/>
<text class="b" x="402.1" y="304.9" font-size="6.8" text-anchor="middle">25</text>
<path d="M424.4 295.3V298.1" stroke="#222" stroke-width="1"/>
<text class="b" x="424.4" y="304.9" font-size="6.8" text-anchor="middle">30</text>
<path d="M446.6 295.3V298.1" stroke="#222" stroke-width="1"/>
<text class="b" x="446.6" y="304.9" font-size="6.8" text-anchor="middle">35</text>
<text class="b" font-size="7.2" text-anchor="middle" textLength="60" transform="translate(270.8 242) rotate(-90)">Percent survival</text>
<text class="b" x="352.7" y="181" font-size="7.6" text-anchor="middle">Dosing period</text>
<path d="M291.6 184.8H414M291.6 181.4V188.2M414 181.4V188.2" stroke="#222" stroke-width="1.35" fill="none"/>
<text class="b" x="369" y="313.2" font-size="8" text-anchor="middle">Day</text>
<path d="M290.8 192.3H335.32" stroke="#444" stroke-width="0.9"/>
<path d="M335.3 192.3H335.3V207.0H344.2V221.8H348.7V236.5H384.3V251.1H406.6V265.8H411.0V280.6H415.5V295.3" fill="none" stroke="#151515" stroke-width="1.5"/>
<rect x="332.9" y="204.6" width="4.9" height="4.9" fill="#fff" fill-opacity="0.55" stroke="#151515" stroke-width="1.05"/>
<rect x="341.8" y="219.3" width="4.9" height="4.9" fill="#fff" fill-opacity="0.55" stroke="#151515" stroke-width="1.05"/>
<rect x="346.2" y="234.0" width="4.9" height="4.9" fill="#fff" fill-opacity="0.55" stroke="#151515" stroke-width="1.05"/>
<rect x="381.8" y="248.7" width="4.9" height="4.9" fill="#fff" fill-opacity="0.55" stroke="#151515" stroke-width="1.05"/>
<rect x="404.1" y="263.4" width="4.9" height="4.9" fill="#fff" fill-opacity="0.55" stroke="#151515" stroke-width="1.05"/>
<rect x="408.6" y="278.1" width="4.9" height="4.9" fill="#fff" fill-opacity="0.55" stroke="#151515" stroke-width="1.05"/>
<rect x="413.0" y="292.9" width="4.9" height="4.9" fill="#fff" fill-opacity="0.55" stroke="#151515" stroke-width="1.05"/>
<path d="M330.9 192.3H330.9V205.2H335.3V230.9H339.8V243.8H344.2V256.7H366.5V269.6H375.4V295.3" fill="none" stroke="#151515" stroke-width="1.5"/>
<path d="M328.5 203.3H333.3L330.9 207.9Z" fill="#fff" fill-opacity="0.55" stroke="#151515" stroke-width="1.2" stroke-linejoin="miter"/>
<path d="M332.9 229.0H337.7L335.3 233.6Z" fill="#fff" fill-opacity="0.55" stroke="#151515" stroke-width="1.2" stroke-linejoin="miter"/>
<path d="M337.4 241.9H342.2L339.8 246.5Z" fill="#fff" fill-opacity="0.55" stroke="#151515" stroke-width="1.2" stroke-linejoin="miter"/>
<path d="M341.8 254.8H346.6L344.2 259.4Z" fill="#fff" fill-opacity="0.55" stroke="#151515" stroke-width="1.2" stroke-linejoin="miter"/>
<path d="M364.1 267.7H368.9L366.5 272.2Z" fill="#fff" fill-opacity="0.55" stroke="#151515" stroke-width="1.2" stroke-linejoin="miter"/>
<path d="M373.0 293.4H377.8L375.4 298.0Z" fill="#fff" fill-opacity="0.55" stroke="#151515" stroke-width="1.2" stroke-linejoin="miter"/>
<path d="M313.1 192.3H313.1V207.0H317.5V221.8H322.0V251.1H326.4V265.8H330.9V295.3" fill="none" stroke="#151515" stroke-width="1.5"/>
<circle cx="313.1" cy="207.0" r="2.6" fill="#151515"/>
<circle cx="317.5" cy="221.8" r="2.6" fill="#151515"/>
<circle cx="322.0" cy="251.1" r="2.6" fill="#151515"/>
<circle cx="326.4" cy="265.8" r="2.6" fill="#151515"/>
<circle cx="330.9" cy="295.3" r="2.6" fill="#151515"/>
<circle cx="417.4" cy="204.8" r="2.6" fill="#151515"/>
<path d="M413.2 204.8H421.59999999999997" stroke="#151515" stroke-width="1.2"/>
<text class="b" x="426.3" y="207.3" font-size="7.3" xml:space="preserve">Vehicle</text>
<path d="M414.8 214.3H420.0L417.4 219.0Z" fill="#fff" fill-opacity="0.55" stroke="#151515" stroke-width="1.2" stroke-linejoin="miter"/>
<path d="M413.2 216.3H421.59999999999997" stroke="#151515" stroke-width="1.2"/>
<text class="b" x="426.3" y="218.8" font-size="6.9" xml:space="preserve">G-749</text>
<circle cx="450.3" cy="216.4" r="1.5" fill="#1a1a1a"/>
<text class="b" x="454.8" y="218.8" font-size="6.9" xml:space="preserve">HCl (10 mg/kg, p.o.)</text>
<rect x="414.9" y="225.7" width="4.9" height="4.9" fill="#fff" fill-opacity="0.55" stroke="#151515" stroke-width="1.05"/>
<path d="M413.2 228.1H421.59999999999997" stroke="#151515" stroke-width="1.2"/>
<text class="b" x="426.3" y="230.6" font-size="6.9" xml:space="preserve">G-749</text>
<circle cx="450.3" cy="228.2" r="1.5" fill="#1a1a1a"/>
<text class="b" x="454.8" y="230.6" font-size="6.9" xml:space="preserve">HCl (20 mg/kg, p.o.)</text>
</g>
</g></svg></body></html>
